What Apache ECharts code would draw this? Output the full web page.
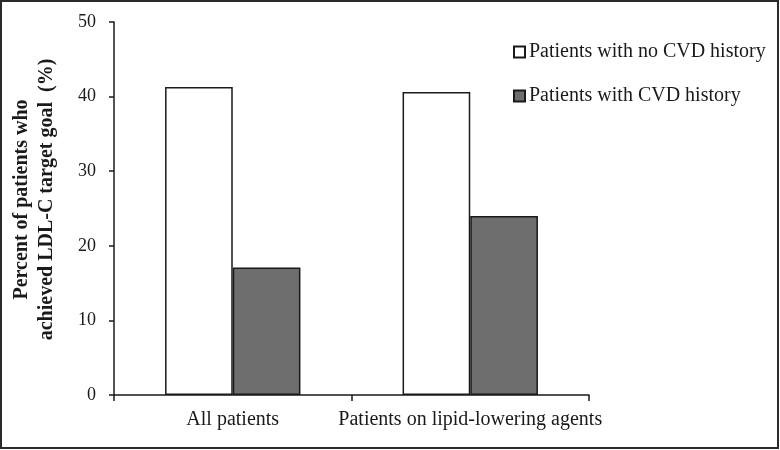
<!DOCTYPE html>
<html>
<head>
<meta charset="utf-8">
<script src="https://cdn.jsdelivr.net/npm/echarts@6/dist/echarts.min.js"></script>
<style>
  html, body { margin: 0; padding: 0; background: #fff; }
  #chart { width: 780px; height: 450px; }
</style>
</head>
<body>
<div id="chart"></div>
<script>
const categories = ["All patients", "Patients on lipid-lowering agents"];
const seriesNames = ["Patients with no CVD history", "Patients with CVD history"];
const noCvd = [41.3, 40.6];
const withCvd = [17.1, 24.0];
const yTicks = { min: 0, max: 50, interval: 10 };

const serif = "'Liberation Serif', 'DejaVu Serif', serif";
const ink = "#1a1a1a";

var myChart = echarts.init(document.getElementById("chart"));
myChart.setOption({
  animation: false,
  textStyle: { fontFamily: serif, color: ink },
  grid: { left: 114, right: 191, top: 22, bottom: 55, containLabel: false, outerBoundsMode: "none" },
  graphic: [
    {
      type: "rect",
      shape: { x: 1, y: 1, width: 777, height: 447 },
      style: { fill: "none", stroke: "#2a2a2a", lineWidth: 2 },
    },
  ],
  legend: {
    orient: "vertical",
    left: 508,
    top: 37,
    itemGap: 24,
    icon: "rect",
    itemWidth: 11,
    itemHeight: 11,
    textStyle: { fontFamily: serif, fontSize: 20, color: ink, padding: [0, 0, 0, -1] },
    data: seriesNames,
  },
  xAxis: {
    type: "category",
    data: categories,
    axisLine: { lineStyle: { color: ink, width: 1.5 } },
    axisTick: { show: true, length: 6, lineStyle: { color: ink, width: 1.5 } },
    axisLabel: { fontFamily: serif, fontSize: 20, color: ink, margin: 15, interval: 0 },
  },
  yAxis: {
    type: "value",
    min: yTicks.min,
    max: yTicks.max,
    interval: yTicks.interval,
    name: "Percent of patients who\nachieved LDL-C target goal  (%)",
    nameLocation: "middle",
    nameGap: 55,
    nameTextStyle: {
      fontFamily: serif,
      fontSize: 20,
      fontWeight: "bold",
      color: ink,
      lineHeight: 25,
      padding: [0, 0, 0, 18],
    },
    splitLine: { show: false },
    axisLine: { show: true, lineStyle: { color: ink, width: 1.5 } },
    axisTick: { show: true, length: 5, lineStyle: { color: ink, width: 1.5 } },
    axisLabel: { fontFamily: serif, fontSize: 18, color: ink, margin: 18 },
  },
  series: [
    {
      name: seriesNames[0],
      type: "bar",
      data: noCvd,
      barGap: "0%",
      barCategoryGap: "43%",
      itemStyle: { color: "#ffffff", borderColor: ink, borderWidth: 1.5 },
    },
    {
      name: seriesNames[1],
      type: "bar",
      data: withCvd,
      itemStyle: { color: "#6e6e6e", borderColor: ink, borderWidth: 1.5 },
    },
  ],
});
</script>
</body>
</html>
